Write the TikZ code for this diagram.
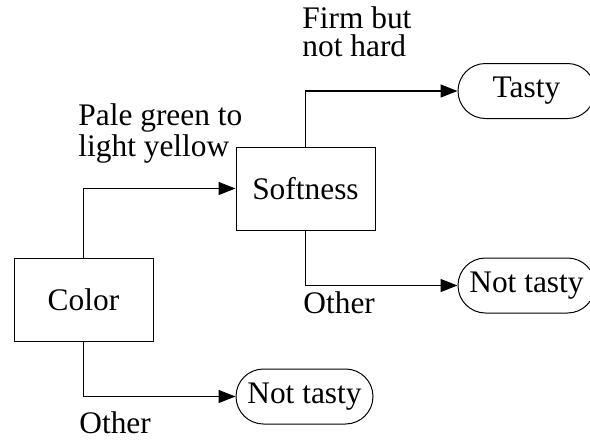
\documentclass[tikz,border=0pt]{standalone}
\usepackage{fontspec}
\setmainfont{Liberation Serif}
\usetikzlibrary{arrows.meta,shapes.misc}
\begin{document}
\begin{tikzpicture}[x=0.5pt,y=-0.5pt,
  every node/.style={font=\fontsize{15.7pt}{14pt}\selectfont},
  testbox/.style={draw,line width=0.5pt,minimum width=69.5pt,minimum height=41.5pt,inner sep=0pt},
  leaf/.style={draw,line width=0.5pt,rounded rectangle,minimum width=68.5pt,minimum height=27.5pt,inner sep=0pt},
  link/.style={line width=0.65pt,-{Triangle[length=8.5pt,width=6.5pt]}},
  lbl/.style={inner sep=0pt,align=left}]
\useasboundingbox (0,0) rectangle (590,440);
\clip (0,0) rectangle (590,440);

% decision boxes
\node[testbox] (color) at (83.5,299.5) {Color};
\node[testbox] (soft) at (305.5,188.5) {Softness};

% outcomes
\node[leaf] (tasty) at (526.5,91) {Tasty};
\node[leaf] (nt1) at (526.5,285.5) {Not tasty};
\node[leaf] (nt2) at (304.5,396.5) {Not tasty};

% branches
\draw[link] (color.north) |- (soft.west);
\draw[link] (color.south) |- (nt2.west);
\draw[link] (soft.north) |- (tasty.west);
\draw[link] (soft.south) |- (nt1.west);

% branch labels (base anchor sits on the last line)
\node[lbl,anchor=base west] (lblPale) at (78,156) {Pale green to\\light yellow};
\node[lbl,anchor=base west] (lblFirm) at (302,56) {Firm but\\not hard};
\node[lbl,anchor=base west] (lblOtherA) at (303,313) {Other};
\node[lbl,anchor=base west] (lblOtherB) at (79,433) {Other};
\end{tikzpicture}
\end{document}
